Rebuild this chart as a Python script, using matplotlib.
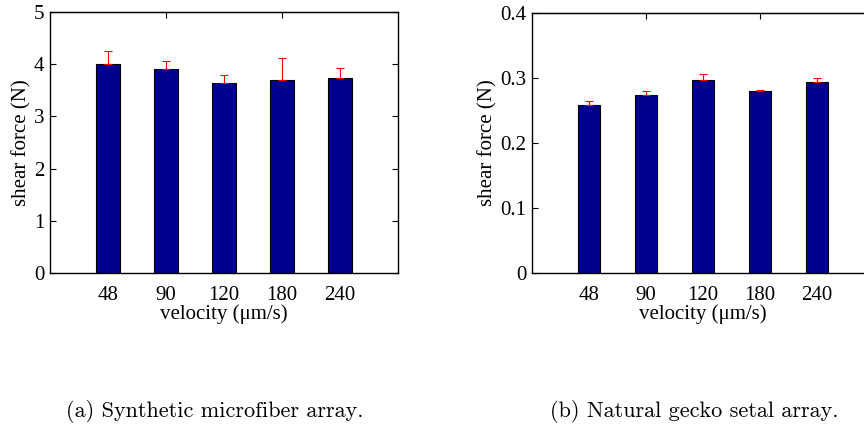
import numpy as np
import matplotlib
matplotlib.use("Agg")
import matplotlib.pyplot as plt

velocities = ["48", "90", "120", "180", "240"]

synthetic_force = [4.00, 3.91, 3.64, 3.70, 3.74]
synthetic_err = [0.26, 0.16, 0.16, 0.41, 0.19]

gecko_force = [0.259, 0.273, 0.296, 0.280, 0.293]
gecko_err = [0.005, 0.007, 0.010, 0.002, 0.007]

bar_color = "#00008f"
serif = ["Liberation Serif", "DejaVu Serif"]

fig = plt.figure(figsize=(8.64, 4.28), dpi=100)


def draw_panel(ax, values, errs, ymax, yticks, yticklabels):
    x = np.arange(1, len(values) + 1)
    ax.bar(x, values, width=0.4, color=bar_color, edgecolor="black", linewidth=0.8, zorder=2)
    ax.errorbar(x, values, yerr=[np.zeros(len(errs)), errs], fmt="none",
                ecolor="red", elinewidth=0.8, capsize=3, capthick=0.8, zorder=3)
    ax.set_xlim(0, 6)
    ax.set_ylim(0, ymax)
    ax.set_xticks(x)
    ax.set_xticklabels(velocities, fontfamily=serif, fontsize=15)
    ax.set_yticks(yticks)
    ax.set_yticklabels(yticklabels, fontfamily=serif, fontsize=15)
    ax.tick_params(axis="x", length=0, pad=9)
    ax.tick_params(axis="y", direction="in", length=4, right=True, pad=4)
    # small inward ticks on the top edge
    top = ax.secondary_xaxis("top")
    top.set_xticks([2, 4])
    top.set_xticklabels([])
    top.tick_params(direction="in", length=4)
    ax.set_xlabel("velocity (μm/s)", fontfamily=serif, fontsize=15, labelpad=0)
    ax.set_ylabel("shear force (N)", fontfamily=serif, fontsize=15, labelpad=2)
    for s in ax.spines.values():
        s.set_linewidth(1.0)


ax1 = fig.add_axes([0.0579, 0.362, 0.4028, 0.610])
draw_panel(ax1, synthetic_force, synthetic_err, 5, [0, 1, 2, 3, 4, 5],
           ["0", "1", "2", "3", "4", "5"])

ax2 = fig.add_axes([0.6157, 0.362, 0.396, 0.608])
draw_panel(ax2, gecko_force, gecko_err, 0.4, [0, 0.1, 0.2, 0.3, 0.4],
           ["0", "0.1", "0.2", "0.3", "0.4"])

fig.text(0.249, 0.038, "(a) Synthetic microfiber array.", ha="center", va="center",
         fontfamily="cmr10", fontsize=16)
fig.text(0.804, 0.038, "(b) Natural gecko setal array.", ha="center", va="center",
         fontfamily="cmr10", fontsize=16)

fig.savefig("out.png", dpi=100)
